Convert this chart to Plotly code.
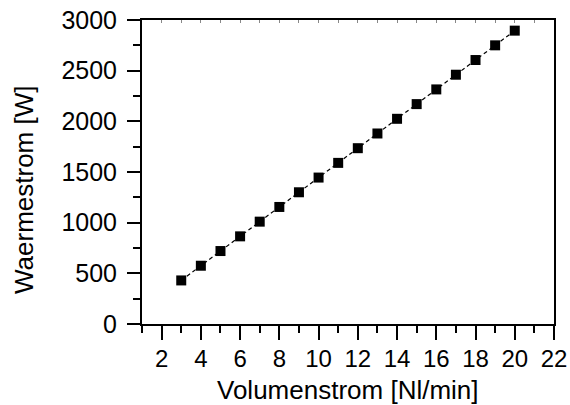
import plotly.graph_objects as go

volumenstrom = [3, 4, 5, 6, 7, 8, 9, 10, 11, 12, 13, 14, 15, 16, 17, 18, 19, 20]
waermestrom = [430, 575, 720, 865, 1010, 1155, 1300, 1445, 1590, 1735,
               1880, 2025, 2170, 2315, 2460, 2605, 2750, 2895]

x_title = "Volumenstrom [Nl/min]"
y_title = "Waermestrom [W]"

FONT = "Liberation Sans, Arial, sans-serif"

fig = go.Figure()
fig.add_trace(go.Scatter(
    x=volumenstrom, y=waermestrom, mode="lines+markers",
    line=dict(color="black", width=1.2, dash="4px,3px"),
    marker=dict(symbol="square", size=10, color="black"),
    showlegend=False,
))
# invisible trace for the top (inner tick) axis
fig.add_trace(go.Scatter(
    x=volumenstrom, y=waermestrom, mode="markers", xaxis="x2",
    marker=dict(opacity=0), showlegend=False, hoverinfo="skip",
))

fig.update_layout(
    width=570, height=405,
    margin=dict(l=142, r=16, t=20, b=81),
    paper_bgcolor="white", plot_bgcolor="white",
    font=dict(family=FONT, color="black"),
    xaxis=dict(
        range=[1, 22], tick0=0, dtick=2, automargin=False,
        ticks="outside", ticklen=14, tickwidth=2, tickcolor="black",
        minor=dict(dtick=1, tick0=0, ticks="outside", ticklen=7, tickwidth=2, tickcolor="black", showgrid=False),
        showline=True, linewidth=2, linecolor="black", mirror=True,
        showgrid=False, zeroline=False, ticklabelstandoff=-2,
        ticklabeloverflow="allow",
        tickfont=dict(size=24, family=FONT),
    ),
    xaxis2=dict(
        overlaying="x", side="top", range=[1, 22], tick0=0, dtick=1, automargin=False,
        ticks="inside", ticklen=3, tickwidth=1, tickcolor="#888",
        showticklabels=False, showline=False, showgrid=False, zeroline=False,
    ),
    yaxis=dict(
        range=[0, 3000], tick0=0, dtick=500, automargin=False,
        ticks="outside", ticklen=13, tickwidth=2, tickcolor="black",
        minor=dict(dtick=250, tick0=0, ticks="outside", ticklen=7, tickwidth=2, tickcolor="black", showgrid=False),
        showline=True, linewidth=2, linecolor="black", mirror=True,
        showgrid=False, zeroline=False, ticklabelstandoff=5,
        ticklabeloverflow="allow",
        tickfont=dict(size=25, family=FONT),
    ),
    annotations=[
        dict(text=x_title, xref="paper", yref="paper", x=0.5, y=0,
             xanchor="center", yanchor="middle", yshift=-66, showarrow=False,
             font=dict(size=26, family=FONT, color="black")),
        dict(text=y_title, xref="paper", yref="paper", x=0, y=0.5, textangle=-90,
             xanchor="center", yanchor="middle", xshift=-118, yshift=-18, showarrow=False,
             font=dict(size=26, family=FONT, color="black")),
    ],
)

# remove the default page margin so the 570x405 figure fills the window exactly
fig.write_html("out.html", config={"displayModeBar": False},
               post_script="document.body.style.margin='0';")
